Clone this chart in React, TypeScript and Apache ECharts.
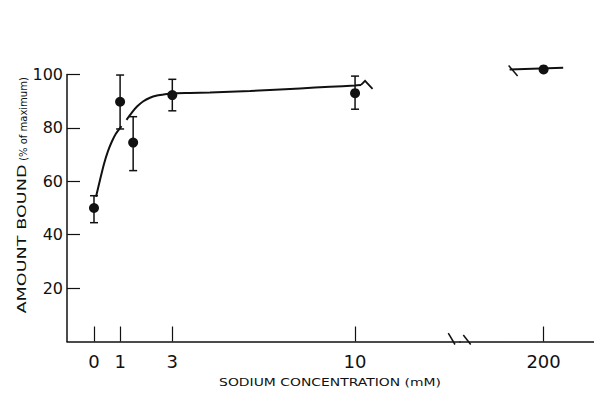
import React, { useEffect, useRef } from "react";
import * as echarts from "echarts";

// ---- data ----
const xTicksLeft = [0, 1, 3, 10];
const xTicksRight = [200];
const yTicks = [20, 40, 60, 80, 100];

const concLeft = [0, 1, 1.5, 3, 10];
const boundLeft = [50, 89.8, 74.5, 92.3, 93];
const errLow = [44.5, 79.6, 64, 86.4, 87];
const errHigh = [54.6, 99.8, 84.2, 98.2, 99.4];

const concRight = [200];
const boundRight = [101.9];

// fitted curve as printed (null = small gap in the printed line)
const curveX = [
  0.077, 0.23, 0.383, 0.536, 0.69, 0.843, 1.054, null, 1.245, 1.456, 1.648, 1.877,
  2.145, 2.414, 2.72, 2.985, 3.678, 4.444, 5.977, 7.893, 9.04, 10.0, 10.23,
];
const curveY = [
  54.2, 60.5, 66.5, 71.3, 75.0, 77.9, 80.7, null, 83.0, 85.8, 88.0, 89.9,
  91.3, 92.1, 92.6, 92.9, 93.1, 93.3, 93.8, 94.8, 95.4, 95.9, 96.1,
];
const curveRightX = [198.7, 200.75];
const curveRightY = [101.9, 102.5];

const INK = "#111";
const FONT = "DejaVu Sans";

export default function App() {
  const ref = useRef<HTMLDivElement>(null);

  useEffect(() => {
    if (!ref.current) return;
    const chart = echarts.init(ref.current, null, { renderer: "svg" });

    const curveData = curveX.map((x, i) => (x === null ? "-" : [x, curveY[i]]));
    const curveRight = curveRightX.map((x, i) => [x, curveRightY[i]]);
    const pointsLeft = concLeft.map((x, i) => [x, boundLeft[i]]);
    const pointsRight = concRight.map((x, i) => [x, boundRight[i]]);
    const errData = concLeft.map((x, i) => [x, errLow[i], errHigh[i]]);

    const lineStyle = { stroke: INK, lineWidth: 1.5 };

    const xAxisCommon = {
      type: "value" as const,
      axisLine: { onZero: false, lineStyle: { color: INK, width: 1.5 } },
      splitLine: { show: false },
    };

    chart.setOption({
      animation: false,
      backgroundColor: "#fff",
      textStyle: { fontFamily: FONT, color: INK },
      grid: [
        { left: 67, top: 74.5, width: 393, height: 267 },
        { left: 460, top: 74.5, width: 134, height: 267 },
      ],
      xAxis: [
        {
          ...xAxisCommon,
          gridIndex: 0,
          min: -1.034,
          max: 14.02,
          axisTick: {
            inside: true,
            length: 15,
            customValues: xTicksLeft,
            lineStyle: { color: INK, width: 1.2 },
          },
          axisLabel: {
            customValues: xTicksLeft,
            fontSize: 18,
            color: INK,
            margin: 11,
            fontFamily: FONT,
          },
        },
        {
          ...xAxisCommon,
          gridIndex: 1,
          min: 196.8,
          max: 201.93,
          axisTick: {
            inside: true,
            length: 15,
            customValues: xTicksRight,
            lineStyle: { color: INK, width: 1.2 },
          },
          axisLabel: {
            customValues: xTicksRight,
            fontSize: 18,
            color: INK,
            margin: 11,
            fontFamily: FONT,
          },
        },
      ],
      yAxis: [
        {
          type: "value",
          gridIndex: 0,
          min: 0,
          max: 100,
          interval: 20,
          axisLine: { show: true, onZero: false, lineStyle: { color: INK, width: 1.5 } },
          axisTick: {
            show: true,
            inside: true,
            length: 13,
            customValues: yTicks,
            lineStyle: { color: INK, width: 1.2 },
          },
          axisLabel: {
            customValues: yTicks,
            fontSize: 16,
            color: INK,
            margin: 4,
            fontFamily: FONT,
          },
          splitLine: { show: false },
        },
        { type: "value", gridIndex: 1, min: 0, max: 100, show: false },
      ],
      series: [
        {
          type: "line",
          xAxisIndex: 0,
          yAxisIndex: 0,
          data: curveData,
          smooth: 0.25,
          connectNulls: false,
          showSymbol: false,
          symbol: "none",
          lineStyle: { color: INK, width: 2 },
          z: 2,
        },
        {
          type: "line",
          xAxisIndex: 1,
          yAxisIndex: 1,
          data: curveRight,
          showSymbol: false,
          symbol: "none",
          clip: false,
          lineStyle: { color: INK, width: 2 },
          z: 2,
        },
        {
          type: "custom",
          xAxisIndex: 0,
          yAxisIndex: 0,
          data: errData,
          clip: false,
          encode: { x: 0, y: [1, 2] },
          renderItem: (_p: any, api: any) => {
            const x = api.value(0);
            const lo = api.coord([x, api.value(1)]);
            const hi = api.coord([x, api.value(2)]);
            const w = 4;
            return {
              type: "group",
              children: [
                { type: "line", shape: { x1: lo[0], y1: lo[1], x2: hi[0], y2: hi[1] }, style: lineStyle },
                { type: "line", shape: { x1: lo[0] - w, y1: lo[1], x2: lo[0] + w, y2: lo[1] }, style: lineStyle },
                { type: "line", shape: { x1: hi[0] - w, y1: hi[1], x2: hi[0] + w, y2: hi[1] }, style: lineStyle },
              ],
            };
          },
          z: 3,
        },
        {
          type: "scatter",
          xAxisIndex: 0,
          yAxisIndex: 0,
          data: pointsLeft,
          symbol: "circle",
          symbolSize: 10,
          itemStyle: { color: INK, opacity: 1 },
          clip: false,
          z: 4,
        },
        {
          type: "scatter",
          xAxisIndex: 1,
          yAxisIndex: 1,
          data: pointsRight,
          symbol: "circle",
          symbolSize: 10,
          itemStyle: { color: INK, opacity: 1 },
          clip: false,
          z: 4,
        },
        // break mark at the end of the left curve
        {
          type: "custom",
          xAxisIndex: 0,
          yAxisIndex: 0,
          data: [[curveX[curveX.length - 1], curveY[curveY.length - 1]]],
          clip: false,
          renderItem: (_p: any, api: any) => {
            const p = api.coord([api.value(0), api.value(1)]);
            return {
              type: "polyline",
              shape: { points: [[p[0], p[1]], [p[0] + 4, p[1] - 4], [p[0] + 11.5, p[1] + 4]] },
              style: { stroke: INK, lineWidth: 1.8, fill: "none" },
            };
          },
          z: 3,
        },
        // break mark at the start of the right curve
        {
          type: "custom",
          xAxisIndex: 1,
          yAxisIndex: 1,
          data: [[curveRightX[0], curveRightY[0]]],
          clip: false,
          renderItem: (_p: any, api: any) => {
            const p = api.coord([api.value(0), api.value(1)]);
            return {
              type: "line",
              shape: { x1: p[0] - 1, y1: p[1] - 4, x2: p[0] + 8, y2: p[1] + 6.5 },
              style: { stroke: INK, lineWidth: 1.5 },
            };
          },
          z: 3,
        },
        // axis break marks
        {
          type: "custom",
          xAxisIndex: 1,
          yAxisIndex: 1,
          data: [[196.8, 0]],
          clip: false,
          renderItem: (_p: any, api: any) => {
            const p = api.coord([api.value(0), api.value(1)]);
            return {
              type: "group",
              children: [
                { type: "line", shape: { x1: p[0] - 11.7, y1: p[1] - 8.3, x2: p[0] - 5, y2: p[1] + 3 }, style: lineStyle },
                { type: "line", shape: { x1: p[0] + 3.3, y1: p[1] - 6.5, x2: p[0] + 10.7, y2: p[1] + 3 }, style: lineStyle },
              ],
            };
          },
          z: 3,
        },
      ],
      graphic: [
        {
          type: "text",
          x: 330,
          y: 382,
          scaleX: 1.265,
          style: {
            text: "SODIUM CONCENTRATION (mM)",
            fontSize: 11,
            fontFamily: FONT,
            fill: INK,
            align: "center",
            verticalAlign: "middle",
            textAlign: "center",
            textVerticalAlign: "middle",
          },
        },
        {
          type: "text",
          x: 22.5,
          y: 239,
          rotation: Math.PI / 2,
          scaleX: 1.47,
          style: {
            text: "AMOUNT BOUND",
            fontSize: 12,
            fontFamily: FONT,
            fill: INK,
            align: "center",
            verticalAlign: "middle",
            textAlign: "center",
            textVerticalAlign: "middle",
          },
        },
        {
          type: "text",
          x: 23.5,
          y: 119,
          rotation: Math.PI / 2,
          style: {
            text: "(% of maximum)",
            fontSize: 10,
            fontFamily: FONT,
            fill: INK,
            align: "center",
            verticalAlign: "middle",
            textAlign: "center",
            textVerticalAlign: "middle",
          },
        },
      ],
    });

    return () => chart.dispose();
  }, []);

  return (
    <div
      ref={ref}
      style={{ position: "fixed", left: 0, top: 0, width: 594, height: 398, background: "#fff" }}
    />
  );
}
